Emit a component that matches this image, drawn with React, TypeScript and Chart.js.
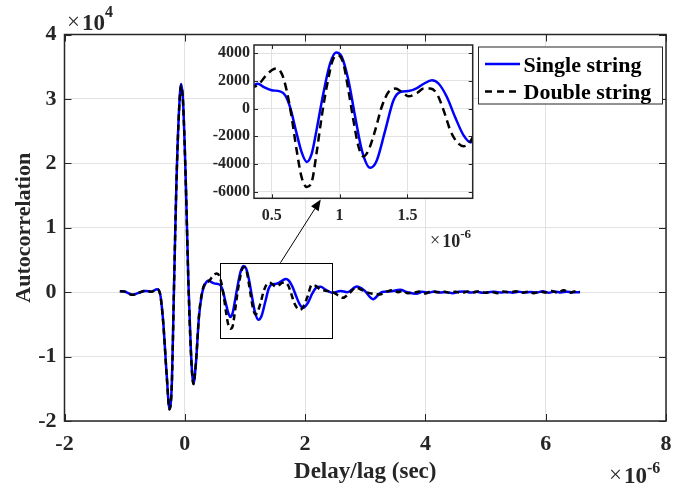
import { useEffect, useRef } from "react";
import { Chart, registerables } from "chart.js";

Chart.register(...registerables);

const SERIF = '"Liberation Serif", "Times New Roman", "DejaVu Serif", serif';
const AXIS_INK = "#262626";
const GRID_INK = "#e2e2e2";

// Delay/lag in microseconds, autocorrelation in raw units
const singleLag = [
  -1.08, -1.0, -0.95, -0.87, -0.78, -0.65, -0.56, -0.46, -0.41, -0.36, -0.3, -0.255, -0.215, -0.178,
  -0.139, -0.095, -0.061, -0.028, 0.017, 0.06, 0.1, 0.143, 0.182, 0.237, 0.29, 0.34, 0.4, 0.44, 0.5,
  0.56, 0.6, 0.635, 0.684, 0.72, 0.758, 0.795, 0.83, 0.88, 0.93, 0.974, 1.016, 1.065, 1.115, 1.164,
  1.225, 1.274, 1.336, 1.397, 1.446, 1.508, 1.57, 1.62, 1.68, 1.73, 1.79, 1.85, 1.913, 1.965, 2.05,
  2.12, 2.2, 2.26, 2.33, 2.45, 2.59, 2.7, 2.86, 2.98, 3.13, 3.27, 3.4, 3.58, 3.7, 3.85, 3.95, 4.05,
  4.15, 4.25, 4.35, 4.45, 4.55, 4.65, 4.75, 4.85, 4.95, 5.05, 5.15, 5.25, 5.35, 5.45, 5.55, 5.65,
  5.75, 5.85, 5.95, 6.05, 6.15, 6.25, 6.35, 6.45, 6.57,
];
const singleAcf = [
  150, 100, -100, -400, -150, 200, 80, 450, -300, -4500, -13000, -18100, -14000, 1500, 17000, 28400,
  32300, 29400, 17000, 1500, -8800, -14200, -11400, -3700, -50, 1300, 1800, 1570, 1330, 1250, 960,
  120, -1800, -3130, -3850, -3250, -1570, 1080, 3250, 4050, 3740, 2050, -600, -3010, -4270, -3740,
  -1570, 600, 1200, 1280, 1490, 1800, 2050, 1800, 840, -600, -1930, -2430, -1600, -200, 800, 850,
  450, -100, 200, 0, 880, 300, -1090, 0, 100, 360, 0, -260, 50, -100, 100, -50, 0, -150, 50, 100,
  -50, 50, -100, 0, 80, -60, 40, -80, 60, -50, 40, -60, 150, -80, 100, -50, 80, -30, 0,
];

const doubleLag = [
  -1.08, -1.0, -0.95, -0.87, -0.78, -0.65, -0.56, -0.46, -0.41, -0.36, -0.3, -0.255, -0.215, -0.178,
  -0.139, -0.095, -0.061, -0.028, 0.017, 0.06, 0.1, 0.143, 0.182, 0.237, 0.29, 0.34, 0.4, 0.45, 0.5,
  0.532, 0.574, 0.61, 0.647, 0.684, 0.72, 0.758, 0.795, 0.83, 0.868, 0.905, 0.954, 0.99, 1.028,
  1.065, 1.102, 1.14, 1.176, 1.213, 1.262, 1.31, 1.36, 1.41, 1.459, 1.508, 1.57, 1.62, 1.667, 1.716,
  1.766, 1.815, 1.864, 1.913, 1.95, 1.99, 2.04, 2.11, 2.17, 2.25, 2.35, 2.46, 2.55, 2.63, 2.72, 2.85,
  2.93, 3.02, 3.12, 3.24, 3.35, 3.45, 3.55, 3.62, 3.7, 3.8, 3.9, 4.0, 4.1, 4.2, 4.3, 4.4, 4.5, 4.6,
  4.7, 4.8, 4.9, 5.0, 5.1, 5.2, 5.3, 5.4, 5.5, 5.6, 5.7, 5.8, 5.9, 6.0, 6.1, 6.2, 6.3, 6.4, 6.5, 6.57,
];
const doubleAcf = [
  150, 80, -120, -420, -150, 220, 60, 430, -320, -4600, -13100, -18200, -14100, 1400, 17000, 28300,
  32100, 29200, 16800, 1300, -9000, -14300, -11300, -3500, 100, 1400, 1700, 2300, 2770, 2900, 2530,
  1330, -600, -3010, -4940, -5660, -5300, -3250, -600, 1570, 3610, 3860, 3250, 1330, -840, -2770,
  -3450, -3010, -1570, 120, 1200, 1450, 1200, 890, 1130, 1450, 1450, 1080, -120, -1570, -2410, -2720,
  -2530, -1900, -700, 1100, 1000, 450, 200, 0, -500, -880, -300, 700, 400, 0, -250, -350, 50, 300, 0,
  250, -150, -100, 100, -200, 150, 0, 120, -100, 80, -150, 100, 0, 150, -100, 50, -150, 100, -50,
  150, -100, 80, -150, 100, -50, 200, -100, 300, -100, 150, 50,
];

const seriesNames = ["Single string", "Double string"];

const mainLagTicks = [-2, 0, 2, 4, 6, 8];
const mainAcfTicks = [-20000, -10000, 0, 10000, 20000, 30000, 40000];
const insetLagTicks = [0.5, 1, 1.5];
const insetAcfTicks = [-6000, -4000, -2000, 0, 2000, 4000];

// region enlarged in the inset, and the pointer from it (data units)
const zoomLag = [0.58, 2.44];
const zoomAcf = [-7080, 4560];
const pointerFrom = [1.59, 4560];
const pointerTo = [2.26, 14390];

const toPoints = (xs: number[], ys: number[]) => xs.map((x, i) => ({ x, y: ys[i] }));

function makeDatasets(width: number, dash: number[]) {
  return [
    {
      label: seriesNames[0],
      data: toPoints(singleLag, singleAcf),
      borderColor: "#0000ff",
      borderWidth: width,
      pointRadius: 0,
      cubicInterpolationMode: "monotone" as const,
      fill: false,
      order: 1,
    },
    {
      label: seriesNames[1],
      data: toPoints(doubleLag, doubleAcf),
      borderColor: "#000000",
      borderWidth: width,
      borderDash: dash,
      pointRadius: 0,
      cubicInterpolationMode: "monotone" as const,
      fill: false,
      order: 0,
    },
  ];
}

// box frame with inward tick marks on all four sides
function frameTicks(len: number) {
  return {
    id: "frameTicks",
    afterDatasetsDraw(chart: any) {
      const { ctx, chartArea: a, scales } = chart;
      ctx.save();
      ctx.strokeStyle = AXIS_INK;
      ctx.lineWidth = 1;
      ctx.beginPath();
      for (const t of scales.x.ticks) {
        const p = Math.round(scales.x.getPixelForValue(t.value)) + 0.5;
        ctx.moveTo(p, a.bottom);
        ctx.lineTo(p, a.bottom - len);
        ctx.moveTo(p, a.top);
        ctx.lineTo(p, a.top + len);
      }
      for (const t of scales.y.ticks) {
        const p = Math.round(scales.y.getPixelForValue(t.value)) + 0.5;
        ctx.moveTo(a.left, p);
        ctx.lineTo(a.left + len, p);
        ctx.moveTo(a.right, p);
        ctx.lineTo(a.right - len, p);
      }
      ctx.stroke();
      ctx.lineWidth = 1.5;
      ctx.strokeRect(a.left, a.top, a.right - a.left, a.bottom - a.top);
      ctx.restore();
    },
  };
}

function drawMultiplier(ctx: CanvasRenderingContext2D, x: number, y: number, size: number, exp: string, expSize: number, rise: number) {
  ctx.save();
  ctx.fillStyle = AXIS_INK;
  ctx.textBaseline = "alphabetic";
  ctx.textAlign = "left";
  ctx.font = `normal ${size}px ${SERIF}`;
  ctx.fillText("\u00d7", x, y - 1);
  let cx = x + ctx.measureText("\u00d7").width + 2;
  ctx.font = `bold ${size}px ${SERIF}`;
  ctx.fillText("10", cx, y);
  cx += ctx.measureText("10").width;
  ctx.font = `bold ${expSize}px ${SERIF}`;
  ctx.fillText(exp, cx, y - rise);
  ctx.restore();
}

const mainOverlay = {
  id: "mainOverlay",
  afterDraw(chart: any) {
    const { ctx, scales } = chart;
    const sx = scales.x;
    const sy = scales.y;
    ctx.save();
    // zoom rectangle
    const x0 = sx.getPixelForValue(zoomLag[0]);
    const x1 = sx.getPixelForValue(zoomLag[1]);
    const y0 = sy.getPixelForValue(zoomAcf[1]);
    const y1 = sy.getPixelForValue(zoomAcf[0]);
    ctx.strokeStyle = "#000";
    ctx.lineWidth = 1;
    ctx.strokeRect(Math.round(x0) + 0.5, Math.round(y0) + 0.5, Math.round(x1 - x0), Math.round(y1 - y0));
    // pointer arrow
    const ax = sx.getPixelForValue(pointerFrom[0]);
    const ay = sy.getPixelForValue(pointerFrom[1]);
    const bx = sx.getPixelForValue(pointerTo[0]);
    const by = sy.getPixelForValue(pointerTo[1]);
    const ang = Math.atan2(by - ay, bx - ax);
    const hl = 11;
    const hw = 4.5;
    const baseX = bx - hl * Math.cos(ang);
    const baseY = by - hl * Math.sin(ang);
    ctx.beginPath();
    ctx.moveTo(ax, ay);
    ctx.lineTo(baseX, baseY);
    ctx.stroke();
    ctx.beginPath();
    ctx.moveTo(bx, by);
    ctx.lineTo(baseX + hw * Math.sin(ang), baseY - hw * Math.cos(ang));
    ctx.lineTo(baseX - hw * Math.sin(ang), baseY + hw * Math.cos(ang));
    ctx.closePath();
    ctx.fillStyle = "#000";
    ctx.fill();

    // legend
    const lx = 478.5;
    const ly = 47;
    const lw = 184;
    const lh = 57;
    ctx.fillStyle = "#fff";
    ctx.fillRect(lx, ly, lw, lh);
    ctx.strokeStyle = AXIS_INK;
    ctx.lineWidth = 1;
    ctx.strokeRect(lx, ly, lw, lh);
    ctx.lineWidth = 2.5;
    ctx.strokeStyle = "#0000ff";
    ctx.beginPath();
    ctx.moveTo(485, 64);
    ctx.lineTo(520, 64);
    ctx.stroke();
    ctx.strokeStyle = "#000";
    ctx.setLineDash([7, 5]);
    ctx.beginPath();
    ctx.moveTo(485, 91.5);
    ctx.lineTo(521, 91.5);
    ctx.stroke();
    ctx.setLineDash([]);
    ctx.fillStyle = "#000";
    ctx.font = `bold 22px ${SERIF}`;
    ctx.textBaseline = "alphabetic";
    ctx.textAlign = "left";
    ctx.fillText(seriesNames[0], 523.5, 71.5);
    ctx.fillText(seriesNames[1], 523.5, 98.5);
    ctx.restore();

    drawMultiplier(ctx, 67, 30, 23, "4", 16, 13);
    drawMultiplier(ctx, 609, 483, 23, "-6", 16, 10);
  },
};

const insetOverlay = {
  id: "insetOverlay",
  beforeDraw(chart: any) {
    const { ctx, chartArea: a } = chart;
    ctx.save();
    ctx.fillStyle = "#fff";
    ctx.fillRect(a.left, a.top, a.right - a.left, a.bottom - a.top);
    ctx.restore();
  },
  afterDraw(chart: any) {
    drawMultiplier(chart.ctx, 240, 227, 18, "-6", 13, 9);
  },
};

function fixedTicks(values: number[]) {
  return (scale: any) => {
    scale.ticks = values.map((value) => ({ value }));
  };
}

export default function App() {
  const mainRef = useRef<HTMLCanvasElement>(null);
  const insetRef = useRef<HTMLCanvasElement>(null);

  useEffect(() => {
    const grid = { color: GRID_INK, lineWidth: 1, drawTicks: false };
    const main = new Chart(mainRef.current!, {
      type: "line",
      data: { datasets: makeDatasets(2.5, [6, 4]) as any },
      options: {
        responsive: false,
        animation: false,
        devicePixelRatio: 1,
        layout: { padding: { left: 0, right: 17, top: 34.5, bottom: 0 } },
        plugins: { legend: { display: false }, tooltip: { enabled: false } },
        scales: {
          x: {
            type: "linear",
            min: -2,
            max: 8,
            afterBuildTicks: fixedTicks(mainLagTicks),
            afterFit: (s: any) => {
              s.height = 68;
            },
            grid,
            border: { display: false },
            ticks: {
              color: AXIS_INK,
              font: { family: SERIF, size: 22, weight: "bold" },
              padding: 10,
              maxRotation: 0,
              autoSkip: false,
              callback: (v: any) => String(v),
            },
            title: {
              display: true,
              text: "Delay/lag (sec)",
              color: AXIS_INK,
              font: { family: SERIF, size: 23, weight: "bold" },
              padding: { top: 0, bottom: 3 },
            },
          },
          y: {
            type: "linear",
            min: -20000,
            max: 40000,
            afterBuildTicks: fixedTicks(mainAcfTicks),
            afterFit: (s: any) => {
              s.width = 64.5;
            },
            grid,
            border: { display: false },
            ticks: {
              color: AXIS_INK,
              font: { family: SERIF, size: 22, weight: "bold" },
              padding: 8,
              autoSkip: false,
              callback: (v: any) => String(Math.round(Number(v) / 10000)),
            },
            title: {
              display: true,
              text: "Autocorrelation",
              color: AXIS_INK,
              font: { family: SERIF, size: 22, weight: "bold" },
              padding: { top: 11, bottom: 0 },
            },
          },
        },
      },
      plugins: [frameTicks(7), mainOverlay],
    });

    const inset = new Chart(insetRef.current!, {
      type: "line",
      data: { datasets: makeDatasets(2.5, [8, 5]) as any },
      options: {
        responsive: false,
        animation: false,
        devicePixelRatio: 1,
        layout: { padding: { left: 0, right: 17.3, top: 25, bottom: 0 } },
        plugins: { legend: { display: false }, tooltip: { enabled: false } },
        scales: {
          x: {
            type: "linear",
            min: 0.37,
            max: 1.98,
            afterBuildTicks: fixedTicks(insetLagTicks),
            afterFit: (s: any) => {
              s.height = 61.7;
            },
            grid,
            border: { display: false },
            ticks: {
              color: AXIS_INK,
              font: { family: SERIF, size: 16, weight: "bold" },
              padding: 8,
              maxRotation: 0,
              autoSkip: false,
              callback: (v: any) => String(v),
            },
          },
          y: {
            type: "linear",
            min: -6480,
            max: 4600,
            afterBuildTicks: fixedTicks(insetAcfTicks),
            afterFit: (s: any) => {
              s.width = 64;
            },
            grid,
            border: { display: false },
            ticks: {
              color: AXIS_INK,
              font: { family: SERIF, size: 16, weight: "bold" },
              padding: 4,
              autoSkip: false,
              callback: (v: any) => String(v),
            },
          },
        },
      },
      plugins: [frameTicks(4), insetOverlay],
    });

    return () => {
      inset.destroy();
      main.destroy();
    };
  }, []);

  return (
    <div style={{ position: "fixed", left: 0, top: 0, width: 683, height: 489, background: "#fff" }}>
      <canvas ref={mainRef} width={683} height={489} style={{ position: "absolute", left: 0, top: 0 }} />
      <canvas ref={insetRef} width={300} height={240} style={{ position: "absolute", left: 190, top: 20 }} />
    </div>
  );
}
